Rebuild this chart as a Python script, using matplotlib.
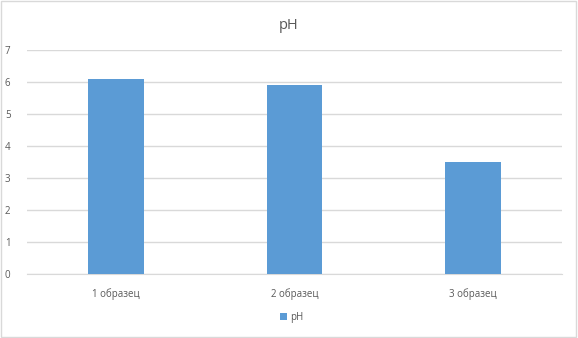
import matplotlib
matplotlib.use('Agg')
import matplotlib.pyplot as plt
from matplotlib.patches import Rectangle

plt.rcParams['font.family'] = ['Open Sans', 'DejaVu Sans']

categories = ['1 образец', '2 образец', '3 образец']
ph_values = [6.1, 5.9, 3.5]
y_ticks = [0, 1, 2, 3, 4, 5, 6, 7]

bar_color = '#5B9BD5'
text_color = '#595959'
grid_color = '#D9D9D9'

fig = plt.figure(figsize=(5.78, 3.38), dpi=100)
ax = fig.add_axes([0.047, 0.189, 0.925, 0.663])

x = range(len(categories))
ax.bar(x, ph_values, width=0.313, color=bar_color, label='pH', zorder=3)

ax.set_xlim(-0.5, len(categories) - 0.5)
ax.set_ylim(0, 7)
ax.set_yticks(y_ticks)
ax.set_xticks(list(x))
ax.set_xticklabels(categories)
ax.grid(axis='y', color=grid_color, linewidth=1, zorder=0)
ax.tick_params(axis='both', length=0, labelsize=7, labelcolor=text_color)
ax.tick_params(axis='x', pad=10)
ax.tick_params(axis='y', pad=12)
for side in ['top', 'right', 'left']:
    ax.spines[side].set_visible(False)
ax.spines['bottom'].set_color(grid_color)

fig.text(0.5, 0.925, 'pH', ha='center', va='center', fontsize=10.5, color=text_color)

leg = fig.legend(loc='center', bbox_to_anchor=(0.505, 0.06), frameon=False, fontsize=7,
                 handlelength=0.7, handleheight=0.7, handletextpad=0.3)
for t in leg.get_texts():
    t.set_color(text_color)

# рамка вокруг диаграммы
fig.patches.append(Rectangle((0.002, 0.003), 0.995, 0.993, transform=fig.transFigure,
                             fill=False, edgecolor=grid_color, linewidth=1))

fig.savefig('out.png', dpi=100)
